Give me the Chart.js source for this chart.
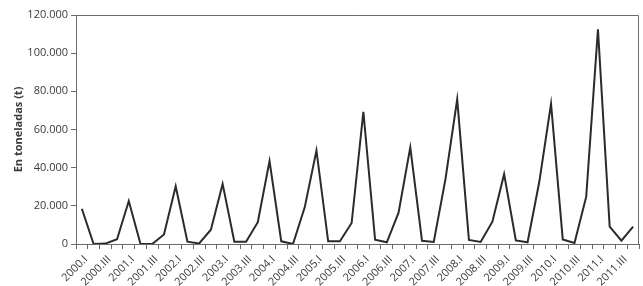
<!DOCTYPE html>
<html>
<head>
<meta charset="utf-8">
<script src="https://cdn.jsdelivr.net/npm/chart.js@4.4.0/dist/chart.umd.min.js"></script>
<style>
    html, body { margin: 0; padding: 0; background: #fff; }
    #wrap { width: 643px; height: 286px; position: relative; }
</style>
</head>
<body>
<div id="wrap"><canvas id="chart"></canvas></div>
<script>
// Quarters 2000.I .. 2011.IV
const years = ['2000', '2001', '2002', '2003', '2004', '2005', '2006', '2007', '2008', '2009', '2010', '2011'];
const quarters = ['I', 'II', 'III', 'IV'];
const labels = years.flatMap(y => quarters.map(q => `${y}.${q}`));

// Tonnes per quarter
const tonnes = [
    18500, 0, 200, 2500,
    22500, 0, 0, 5000,
    30200, 1200, 300, 7500,
    31500, 1200, 1200, 11400,
    43500, 1400, 0, 19200,
    49000, 1400, 1400, 11000,
    69300, 2300, 900, 16400,
    50600, 1700, 1100, 34000,
    75800, 2100, 1100, 11700,
    36600, 1900, 900, 32600,
    73500, 2400, 500, 24800,
    112500, 9100, 1700, 9100
];

const yTicks = [0, 20000, 40000, 60000, 80000, 100000, 120000];

const fontFamily = "'Open Sans', 'Noto Sans', sans-serif";
const textColor = '#3a3a3a';
const axisColor = '#6b6b6b';

function formatThousands(v) {
    return String(v).replace(/\B(?=(\d{3})+(?!\d))/g, '.');
}

// frame around plot area (top + right edges)
const frame = {
    id: 'frame',
    afterDraw(chart) {
        const { ctx, chartArea: a } = chart;
        ctx.save();
        ctx.strokeStyle = axisColor;
        ctx.lineWidth = 1;
        ctx.beginPath();
        ctx.moveTo(a.left, a.top + 0.5);
        ctx.lineTo(a.right - 0.5, a.top + 0.5);
        ctx.lineTo(a.right - 0.5, a.bottom);
        ctx.stroke();
        ctx.restore();
    }
};

new Chart(document.getElementById('chart'), {
    type: 'line',
    data: {
        labels: labels,
        datasets: [{
            data: tonnes,
            borderColor: '#2b2b2b',
            borderWidth: 2,
            pointRadius: 0,
            tension: 0,
            fill: false
        }]
    },
    options: {
        responsive: true,
        maintainAspectRatio: false,
        animation: false,
        layout: { padding: { top: 15, right: 4, left: 12, bottom: 0 } },
        plugins: {
            legend: { display: false },
            tooltip: { enabled: false }
        },
        scales: {
            x: {
                offset: true,
                afterFit: (scale) => {
                    scale.height = 42;
                    scale.paddingLeft = 0;
                    scale.paddingRight = 0;
                },
                grid: {
                    offset: true,
                    drawOnChartArea: false,
                    color: axisColor,
                    tickLength: 5
                },
                border: { color: axisColor, width: 1 },
                ticks: {
                    autoSkip: false,
                    minRotation: 45,
                    maxRotation: 45,
                    padding: 4,
                    labelOffset: 4,
                    color: textColor,
                    font: { family: fontFamily, size: 11 },
                    callback: (val, i) => (i % 2 === 0 ? labels[i] : '')
                }
            },
            y: {
                min: 0,
                max: 120000,
                afterFit: (scale) => { scale.width = 64; },
                afterBuildTicks: (scale) => {
                    scale.ticks = yTicks.map(v => ({ value: v }));
                },
                grid: {
                    drawOnChartArea: false,
                    color: axisColor,
                    tickLength: 5
                },
                border: { color: axisColor, width: 1 },
                ticks: {
                    padding: 3,
                    color: textColor,
                    font: { family: fontFamily, size: 11 },
                    callback: (v) => formatThousands(v)
                },
                title: {
                    display: true,
                    text: 'En toneladas (t)',
                    color: textColor,
                    padding: { top: 0, bottom: 8 },
                    font: { family: fontFamily, size: 11, weight: 'bold' }
                }
            }
        }
    },
    plugins: [frame]
});
</script>
</body>
</html>
